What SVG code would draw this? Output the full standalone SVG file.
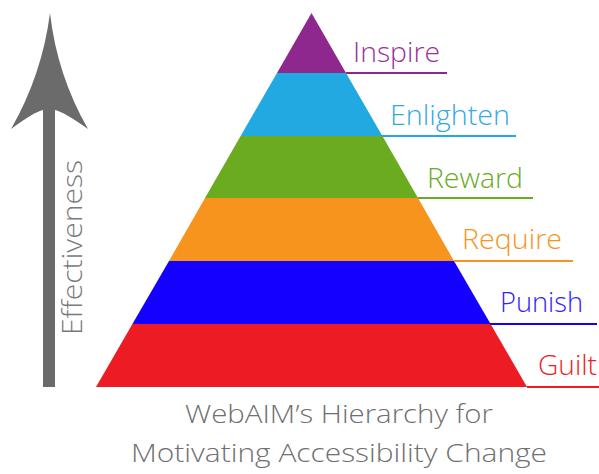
<svg xmlns="http://www.w3.org/2000/svg" width="599" height="474" viewBox="0 0 599 474">
<style>
.lbl{font-family:"Open Sans","Liberation Sans",sans-serif;font-size:27px;font-weight:300}
.ttl{font-family:"Open Sans","Liberation Sans",sans-serif;font-size:26px;font-weight:300;fill:#707070}
.ul{stroke-width:2;fill:none}
</style>
<rect width="599" height="474" fill="#fff"/>
<g id="arrow">
<path d="M50,13 Q57,75 88,129 Q64,112 55,110 L55,387 L43,387 L43,110 Q34,112 11,129 Q42,75 50,13 Z" fill="#6b6b6b"/>
<text class="ttl" transform="translate(82,335) rotate(-90)" textLength="175" lengthAdjust="spacingAndGlyphs" style="font-size:27px;fill:#7a7a7a">Effectiveness</text>
</g>
<g id="pyramid">
<g id="guilt"><polygon points="96,387 527,387 490.6,324 132.4,324" fill="#ed1c24"/></g>
<g id="punish"><polygon points="132.4,324 490.6,324 454,261 169,261" fill="#1400ff"/></g>
<g id="require"><polygon points="169,261 454,261 418,198 205,198" fill="#f7941d"/></g>
<g id="reward"><polygon points="205,198 418,198 382.4,136 240.6,136" fill="#6aab1f"/></g>
<g id="enlighten"><polygon points="240.6,136 382.4,136 346,73 277,73" fill="#22a9e1"/></g>
<g id="inspire"><polygon points="277,73 346,73 311.5,13" fill="#8e288f"/></g>
</g>
<g id="connectors">
<line class="ul" x1="346" y1="73" x2="447" y2="73" stroke="#8e288f"/>
<line class="ul" x1="382" y1="136" x2="516" y2="136" stroke="#22a9e1"/>
<line class="ul" x1="418" y1="198" x2="533" y2="198" stroke="#6aab1f"/>
<line class="ul" x1="454" y1="261" x2="573" y2="261" stroke="#f7941d"/>
<line class="ul" x1="490" y1="324" x2="597" y2="324" stroke="#1400ff"/>
<line class="ul" x1="527" y1="387" x2="599" y2="387" stroke="#ed1c24"/>
</g>
<g id="labels">
<text class="lbl" x="353" y="62" textLength="87" lengthAdjust="spacingAndGlyphs" fill="#993399">Inspire</text>
<text class="lbl" x="390" y="125" textLength="120" lengthAdjust="spacingAndGlyphs" fill="#33aae0">Enlighten</text>
<text class="lbl" x="427" y="188" textLength="96" lengthAdjust="spacingAndGlyphs" fill="#6aab1f">Reward</text>
<text class="lbl" x="462" y="249" textLength="100" lengthAdjust="spacingAndGlyphs" fill="#f7941d">Require</text>
<text class="lbl" x="500" y="312" textLength="83" lengthAdjust="spacingAndGlyphs" fill="#3322ff">Punish</text>
<text class="lbl" x="538" y="375" textLength="59" lengthAdjust="spacingAndGlyphs" fill="#ed1c24">Guilt</text>
</g>
<g id="title">
<text class="ttl" x="185" y="423" textLength="308" lengthAdjust="spacingAndGlyphs">WebAIM’s Hierarchy for</text>
<text class="ttl" x="131" y="462" textLength="416" lengthAdjust="spacingAndGlyphs">Motivating Accessibility Change</text>
</g>
</svg>
